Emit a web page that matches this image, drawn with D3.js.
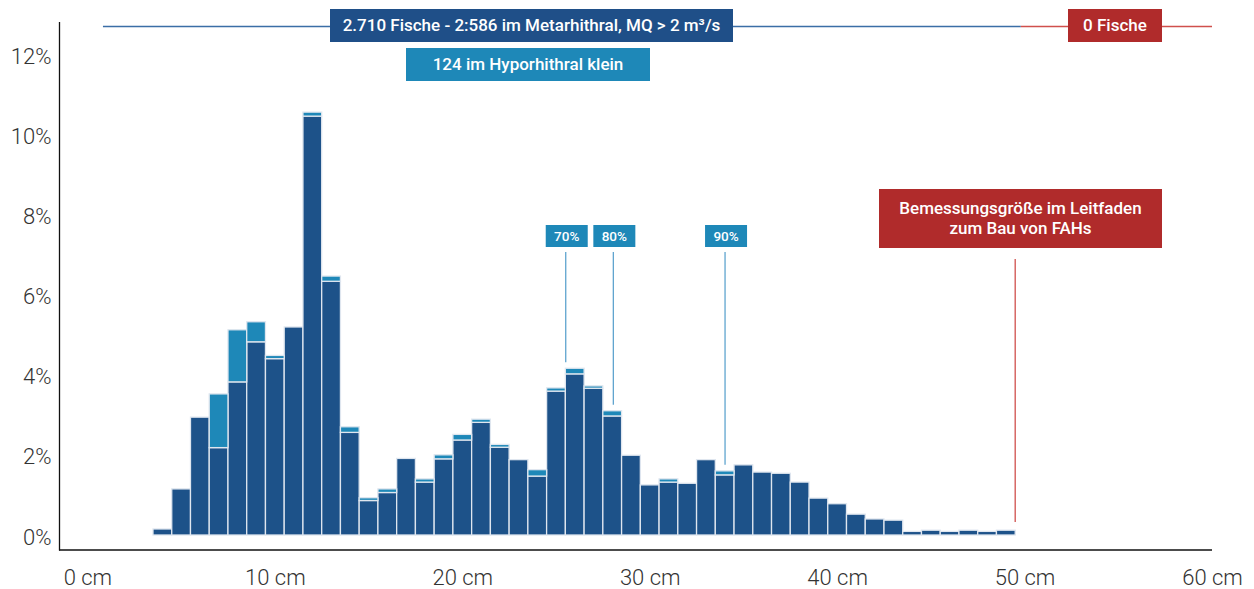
<!DOCTYPE html>
<html>
<head>
<meta charset="utf-8">
<script src="https://cdn.jsdelivr.net/npm/d3@7"></script>
<style>
  body { margin: 0; background: #fff; }
  svg text { font-family: Roboto, "Noto Sans", sans-serif; }
  .tick text { font-weight: 300; font-size: 22px; fill: #333; }
</style>
</head>
<body>
<div id="chart-area"></div>
<script>

// data: length classes (cm, bar centre), share of fish in %
let lengths = [4,5,6,7,8,9,10,11,12,13,14,15,16,17,18,19,20,21,22,23,24,25,26,27,
  28,29,30,31,32,33,34,35,36,37,38,39,40,41,42,43,44,45,46,47,48,49];
// Metarhithral, MQ > 2 m3/s
let metaShare = [0.15,1.15,2.94,2.18,3.82,4.82,4.40,5.19,10.45,6.33,2.56,0.86,1.06,1.91,
  1.32,1.90,2.37,2.81,2.19,1.88,1.47,3.59,4.02,3.66,2.97,1.99,1.25,1.32,1.29,1.88,1.50,
  1.75,1.57,1.54,1.32,0.92,0.78,0.52,0.40,0.37,0.09,0.12,0.09,0.12,0.09,0.12];
// Hyporhithral klein
let hypoShare = [0,0,0,1.34,1.30,0.50,0.08,0,0.10,0.13,0.14,0.07,0.09,0,0.08,0.10,0.14,
  0.08,0.07,0,0.16,0.08,0.14,0.06,0.13,0,0,0.08,0,0,0.10,0,0,0,0,0,0,0,0,0,0,0,0,0,0,0];

let percentiles = ["70%", "80%", "90%"];
let percentileCm = [25.52, 28.06, 34.02];

let yTicks = [0, 2, 4, 6, 8, 10, 12];
let xTicks = [0, 10, 20, 30, 40, 50, 60];

let totalLabel = "2.710 Fische - 2:586 im Metarhithral, MQ > 2 m³/s";
let hypoLabel = "124 im Hyporhithral klein";
let zeroLabel = "0 Fische";
let limitLabel = ["Bemessungsgröße im Leitfaden", "zum Bau von FAHs"];
let limitCm = 49.5;

let darkBlue = "#1d5289", lightBlue = "#1e88b8", red = "#b02b2b";

let W = 1254, H = 589;
let svg = d3.select("#chart-area").append("svg")
    .attr("width", W)
    .attr("height", H);

// Scales
let x = d3.scaleLinear().domain([0, 60]).range([87.4, 1212]);
let y = d3.scaleLinear().domain([0, 12]).range([535, 54]);

// bars
let rows = lengths.map((c, i) => ({c: c, meta: metaShare[i], hypo: hypoShare[i]}));
let barGroup = svg.append("g");

barGroup.selectAll(".meta")
  .data(rows)
  .enter().append("rect")
  .attr("class", "meta")
  .attr("x", d => x(d.c - 0.5))
  .attr("width", d => x(d.c + 0.5) - x(d.c - 0.5))
  .attr("y", d => y(d.meta))
  .attr("height", d => y(0) - y(d.meta))
  .attr("fill", darkBlue)
  .attr("stroke", "#dfe6ef")
  .attr("stroke-width", 1.3);

barGroup.selectAll(".hypo")
  .data(rows.filter(d => d.hypo > 0))
  .enter().append("rect")
  .attr("class", "hypo")
  .attr("x", d => x(d.c - 0.5))
  .attr("width", d => x(d.c + 0.5) - x(d.c - 0.5))
  .attr("y", d => y(d.meta + d.hypo))
  .attr("height", d => y(d.meta) - y(d.meta + d.hypo))
  .attr("fill", lightBlue)
  .attr("stroke", "#dfe6ef")
  .attr("stroke-width", 1.3);

// Axes
let yAxis = d3.axisLeft(y).tickValues(yTicks).tickSize(0).tickPadding(8)
  .tickFormat(d => d + "%");
let yGroup = svg.append("g")
  .attr("transform", "translate(59.5,2)")
  .call(yAxis);
yGroup.select(".domain").remove();

let xAxis = d3.axisBottom(x).tickValues(xTicks).tickSize(0).tickPadding(19)
  .tickFormat(d => d + " cm");
let xGroup = svg.append("g")
  .attr("transform", "translate(0,550)")
  .call(xAxis);
xGroup.select(".domain").remove();

svg.append("line")
  .attr("x1", 59.5).attr("x2", 59.5).attr("y1", 22).attr("y2", 550.5)
  .attr("stroke", "#111").attr("stroke-width", 1.3);
svg.append("line")
  .attr("x1", 59).attr("x2", x(60)).attr("y1", 550).attr("y2", 550)
  .attr("stroke", "#111").attr("stroke-width", 1.3);

// top range lines
svg.append("line")
  .attr("x1", x(0.83)).attr("x2", x(49.8)).attr("y1", 26.5).attr("y2", 26.5)
  .attr("stroke", "#3b6ea6").attr("stroke-width", 1.3);
svg.append("line")
  .attr("x1", x(49.8)).attr("x2", x(60)).attr("y1", 26.5).attr("y2", 26.5)
  .attr("stroke", "#d0504c").attr("stroke-width", 1.3);

function labelBox(cx, top, w, h, fill, lines, size, weight) {
  let g = svg.append("g");
  g.append("rect")
    .attr("x", cx - w / 2).attr("y", top).attr("width", w).attr("height", h)
    .attr("fill", fill);
  let lh = 20;
  let y0 = top + h / 2 - (lines.length - 1) * lh / 2;
  lines.forEach((t, i) => {
    g.append("text")
      .attr("x", cx).attr("y", y0 + i * lh)
      .attr("dy", "0.35em")
      .attr("text-anchor", "middle")
      .attr("fill", "#fff")
      .style("font-size", size + "px")
      .style("font-weight", weight)
      .text(t);
  });
}

labelBox(531.5, 9, 403, 33, "#1f4f88", [totalLabel], 17, 500);
labelBox(528, 48, 244, 33, lightBlue, [hypoLabel], 17, 500);
labelBox(1115, 9, 94, 33, red, [zeroLabel], 17, 500);
labelBox(1020.5, 189, 283, 59, red, limitLabel, 17, 500);

// percentile markers
percentiles.forEach((p, i) => {
  let px = x(percentileCm[i]);
  let idx = lengths.indexOf(Math.round(percentileCm[i]));
  let top = metaShare[idx] + hypoShare[idx];
  svg.append("line")
    .attr("x1", px).attr("x2", px)
    .attr("y1", 252).attr("y2", y(top) - 6)
    .attr("stroke", "#5fa4cf").attr("stroke-width", 1.3);
  labelBox(px + 1, 225, 42, 22, lightBlue, [p], 13.5, 500);
});

// limit line
svg.append("line")
  .attr("x1", x(limitCm)).attr("x2", x(limitCm))
  .attr("y1", 259).attr("y2", 522)
  .attr("stroke", "#d0504c").attr("stroke-width", 1.3);

</script>
</body>
</html>
